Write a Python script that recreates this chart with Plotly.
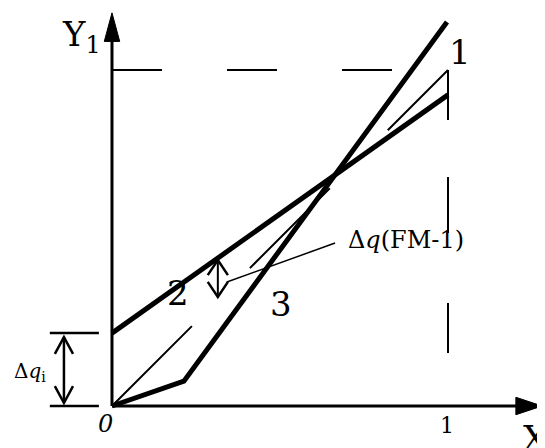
import plotly.graph_objects as go

# ---- data (unit square: X in [0,1], Y1 in [0,1]) ----
line1_x = [0, 1]            # diagonal "1"
line1_y = [0, 1]
line2_x = [0, 1]            # line "2"
line2_y = [0.217, 0.926]
line3_x = [0, 0.214, 0.997] # broken line "3"
line3_y = [0, 0.074, 1.143]
ref_h_x = [0, 1]            # dashed reference Y=1
ref_h_y = [1, 1]
ref_v_x = [1, 1]            # dashed reference X=1
ref_v_y = [1, 0]

y_axis_top = 1.17
x_axis_end = 1.28

dq_x = 0.315                 # small Δq arrow between line 2 and line 1
dq_y = [0.3244, 0.4345]
dqi_x = -0.143               # Δq_i bracket arrow
dqi_y = [0.009, 0.205]
dqi_tick_x = [-0.185, -0.039]
dqi_tick_y = [0.0, 0.217]
leader_x = [0.342, 0.664]
leader_y = [0.369, 0.485]

FONT = "DejaVu Serif"

fig = go.Figure()

def add_line(xs, ys, width, dash=None):
    fig.add_trace(go.Scatter(x=xs, y=ys, mode="lines",
                             line=dict(color="black", width=width, dash=dash),
                             hoverinfo="skip", showlegend=False))

# reference dashed lines
add_line(ref_h_x, ref_h_y, 2, "50px,65px")
add_line(ref_v_x, ref_v_y, 2, "50px,57px,56px,70px,50px,60px")
add_line(line1_x, line1_y, 2, "113px,82px")
add_line(line2_x, line2_y, 5)
add_line(line3_x, line3_y, 5)

# axes
add_line([0, 0], [0, y_axis_top - 0.06], 3)
add_line([0, x_axis_end - 0.06], [0, 0], 3)

shapes = []

def head(tx, ty, dx, dy, L, W, filled):
    bx, by = tx - L * dx, ty - L * dy
    px, py = -dy, dx
    ax_, ay_ = bx + W * px, by + W * py
    cx_, cy_ = bx - W * px, by - W * py
    p = f"M {ax_},{ay_} L {tx},{ty} L {cx_},{cy_}"
    if filled:
        p += " Z"
    return dict(type="path", path=p, xref="x", yref="y",
                line=dict(color="black", width=2.5 if not filled else 1),
                fillcolor="black" if filled else "rgba(0,0,0,0)")

shapes.append(head(0, y_axis_top, 0, 1, 0.085, 0.023, True))
shapes.append(head(x_axis_end, 0, 1, 0, 0.078, 0.026, True))

# small Δq double arrow
shapes.append(dict(type="line", xref="x", yref="y", x0=dq_x, x1=dq_x,
                   y0=dq_y[0], y1=dq_y[1], line=dict(color="black", width=2)))
shapes.append(head(dq_x, dq_y[1], 0, 1, 0.045, 0.03, False))
shapes.append(head(dq_x, dq_y[0], 0, -1, 0.045, 0.03, False))

# leader line
shapes.append(dict(type="line", xref="x", yref="y", x0=leader_x[0], x1=leader_x[1],
                   y0=leader_y[0], y1=leader_y[1], line=dict(color="black", width=1.5)))

# Δq_i bracket
for ty in dqi_tick_y:
    shapes.append(dict(type="line", xref="x", yref="y", x0=dqi_tick_x[0], x1=dqi_tick_x[1],
                       y0=ty, y1=ty, line=dict(color="black", width=2.5)))
shapes.append(dict(type="line", xref="x", yref="y", x0=dqi_x, x1=dqi_x,
                   y0=dqi_y[0], y1=dqi_y[1], line=dict(color="black", width=2.5)))
shapes.append(head(dqi_x, dqi_y[1], 0, 1, 0.05, 0.027, False))
shapes.append(head(dqi_x, dqi_y[0], 0, -1, 0.05, 0.027, False))

def txt(x, y, s, size, xanchor="center"):
    return dict(x=x, y=y, xref="x", yref="y", text=s, showarrow=False,
                xanchor=xanchor, yanchor="middle",
                font=dict(family=FONT, size=size, color="black"))

annotations = [
    txt(-0.155, 1.10, "Y<sub>1</sub>", 34, "left"),
    txt(1.036, 1.054, "1", 34),
    txt(0.196, 0.336, "2", 34),
    txt(0.503, 0.304, "3", 34),
    txt(0.696, 0.494, "Δ<i>q</i>(FM-1)", 24, "left"),
    txt(-0.298, 0.101, "Δ<i>q</i><sub>i</sub>", 20, "left"),
    txt(-0.018, -0.054, "<i>0</i>", 24),
    txt(0.997, -0.057, "1", 22),
    txt(1.26, -0.095, "X", 34),
]

# the page body has an 8px margin, so the ranges are offset by 8px
fig.update_layout(
    width=545, height=448,
    margin=dict(l=0, r=0, t=0, b=0),
    paper_bgcolor="white", plot_bgcolor="white",
    xaxis=dict(range=[-0.3095, 1.3125], visible=False, fixedrange=True),
    yaxis=dict(range=[-0.1488, 1.1845], visible=False, fixedrange=True),
    shapes=shapes, annotations=annotations, showlegend=False,
)

fig.write_html("out.html")
